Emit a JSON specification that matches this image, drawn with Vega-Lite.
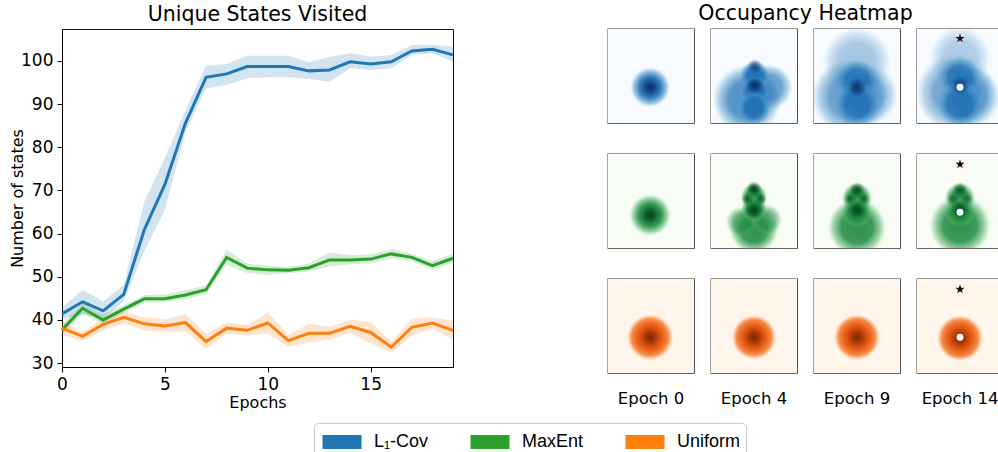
{
  "$schema": "https://vega.github.io/schema/vega-lite/v6.json",
  "padding": {"left": 9, "top": 3, "right": 0, "bottom": 0},
  "background": "white",
  "config": {
    "font": "DejaVu Sans",
    "view": {"stroke": null},
    "axis": {"grid": false, "labelFontSize": 17, "titleFontSize": 16, "titleFontWeight": "normal", "labelColor": "#000", "titleColor": "#000", "tickColor": "#000", "domainColor": "#000", "tickSize": 5, "labelPadding": 4},
    "title": {"fontSize": 20.5, "fontWeight": "normal", "color": "#000", "offset": 4}
  },
  "datasets": {
    "curves": [
      {"alg":"L₁-Cov","epoch":0,"mean":41.4,"lo":40.2,"hi":42.8},
      {"alg":"L₁-Cov","epoch":1,"mean":44.2,"lo":41.2,"hi":47.0},
      {"alg":"L₁-Cov","epoch":2,"mean":42.1,"lo":40.4,"hi":44.3},
      {"alg":"L₁-Cov","epoch":3,"mean":45.9,"lo":44.3,"hi":48.1},
      {"alg":"L₁-Cov","epoch":4,"mean":60.9,"lo":55.9,"hi":67.4},
      {"alg":"L₁-Cov","epoch":5,"mean":71.4,"lo":65.5,"hi":77.5},
      {"alg":"L₁-Cov","epoch":6,"mean":85.6,"lo":83.5,"hi":88.6},
      {"alg":"L₁-Cov","epoch":7,"mean":96.2,"lo":93.7,"hi":98.9},
      {"alg":"L₁-Cov","epoch":8,"mean":97.0,"lo":94.4,"hi":99.3},
      {"alg":"L₁-Cov","epoch":9,"mean":98.7,"lo":96.0,"hi":101.2},
      {"alg":"L₁-Cov","epoch":10,"mean":98.7,"lo":96.2,"hi":101.2},
      {"alg":"L₁-Cov","epoch":11,"mean":98.7,"lo":96.2,"hi":101.2},
      {"alg":"L₁-Cov","epoch":12,"mean":97.7,"lo":95.8,"hi":99.7},
      {"alg":"L₁-Cov","epoch":13,"mean":97.9,"lo":95.2,"hi":100.9},
      {"alg":"L₁-Cov","epoch":14,"mean":99.8,"lo":98.3,"hi":101.8},
      {"alg":"L₁-Cov","epoch":15,"mean":99.3,"lo":97.9,"hi":101.0},
      {"alg":"L₁-Cov","epoch":16,"mean":99.8,"lo":98.3,"hi":101.4},
      {"alg":"L₁-Cov","epoch":17,"mean":102.3,"lo":101.4,"hi":103.7},
      {"alg":"L₁-Cov","epoch":18,"mean":102.7,"lo":101.8,"hi":103.7},
      {"alg":"L₁-Cov","epoch":19,"mean":101.4,"lo":99.8,"hi":103.3},
      {"alg":"MaxEnt","epoch":0,"mean":37.7,"lo":36.4,"hi":39.0},
      {"alg":"MaxEnt","epoch":1,"mean":42.7,"lo":41.6,"hi":43.8},
      {"alg":"MaxEnt","epoch":2,"mean":40.0,"lo":39.0,"hi":41.2},
      {"alg":"MaxEnt","epoch":3,"mean":42.5,"lo":41.6,"hi":43.4},
      {"alg":"MaxEnt","epoch":4,"mean":44.9,"lo":44.0,"hi":45.8},
      {"alg":"MaxEnt","epoch":5,"mean":44.9,"lo":44.1,"hi":45.9},
      {"alg":"MaxEnt","epoch":6,"mean":45.8,"lo":44.8,"hi":46.9},
      {"alg":"MaxEnt","epoch":7,"mean":47.0,"lo":46.0,"hi":48.0},
      {"alg":"MaxEnt","epoch":8,"mean":54.5,"lo":52.8,"hi":56.3},
      {"alg":"MaxEnt","epoch":9,"mean":52.0,"lo":50.9,"hi":53.0},
      {"alg":"MaxEnt","epoch":10,"mean":51.6,"lo":50.4,"hi":52.6},
      {"alg":"MaxEnt","epoch":11,"mean":51.5,"lo":50.8,"hi":52.2},
      {"alg":"MaxEnt","epoch":12,"mean":52.1,"lo":51.2,"hi":53.1},
      {"alg":"MaxEnt","epoch":13,"mean":53.9,"lo":52.4,"hi":55.6},
      {"alg":"MaxEnt","epoch":14,"mean":53.9,"lo":52.9,"hi":55.0},
      {"alg":"MaxEnt","epoch":15,"mean":54.1,"lo":53.1,"hi":55.2},
      {"alg":"MaxEnt","epoch":16,"mean":55.3,"lo":54.3,"hi":56.4},
      {"alg":"MaxEnt","epoch":17,"mean":54.5,"lo":53.6,"hi":55.4},
      {"alg":"MaxEnt","epoch":18,"mean":52.6,"lo":51.6,"hi":53.6},
      {"alg":"MaxEnt","epoch":19,"mean":54.3,"lo":53.2,"hi":55.4},
      {"alg":"Uniform","epoch":0,"mean":38.1,"lo":36.6,"hi":39.6},
      {"alg":"Uniform","epoch":1,"mean":36.2,"lo":35.2,"hi":37.2},
      {"alg":"Uniform","epoch":2,"mean":39.0,"lo":37.5,"hi":40.5},
      {"alg":"Uniform","epoch":3,"mean":40.6,"lo":39.2,"hi":42.0},
      {"alg":"Uniform","epoch":4,"mean":39.1,"lo":37.6,"hi":40.6},
      {"alg":"Uniform","epoch":5,"mean":38.6,"lo":37.1,"hi":40.1},
      {"alg":"Uniform","epoch":6,"mean":39.4,"lo":37.4,"hi":41.4},
      {"alg":"Uniform","epoch":7,"mean":35.0,"lo":33.2,"hi":36.8},
      {"alg":"Uniform","epoch":8,"mean":38.1,"lo":36.8,"hi":39.4},
      {"alg":"Uniform","epoch":9,"mean":37.6,"lo":36.4,"hi":38.8},
      {"alg":"Uniform","epoch":10,"mean":39.3,"lo":36.8,"hi":41.8},
      {"alg":"Uniform","epoch":11,"mean":35.2,"lo":33.8,"hi":36.6},
      {"alg":"Uniform","epoch":12,"mean":36.9,"lo":34.7,"hi":39.1},
      {"alg":"Uniform","epoch":13,"mean":36.9,"lo":35.4,"hi":38.4},
      {"alg":"Uniform","epoch":14,"mean":38.5,"lo":37.0,"hi":40.0},
      {"alg":"Uniform","epoch":15,"mean":37.1,"lo":34.6,"hi":39.6},
      {"alg":"Uniform","epoch":16,"mean":33.7,"lo":32.4,"hi":35.0},
      {"alg":"Uniform","epoch":17,"mean":38.3,"lo":36.3,"hi":40.3},
      {"alg":"Uniform","epoch":18,"mean":39.3,"lo":38.0,"hi":40.6},
      {"alg":"Uniform","epoch":19,"mean":37.6,"lo":35.4,"hi":39.8}
    ],
    "heat": [
      {"alg":"L₁-Cov","ep":"Epoch 0","kind":"bg"},
      {"alg":"L₁-Cov","ep":"Epoch 4","kind":"bg"},
      {"alg":"L₁-Cov","ep":"Epoch 9","kind":"bg"},
      {"alg":"L₁-Cov","ep":"Epoch 14","kind":"bg"},
      {"alg":"MaxEnt","ep":"Epoch 0","kind":"bg"},
      {"alg":"MaxEnt","ep":"Epoch 4","kind":"bg"},
      {"alg":"MaxEnt","ep":"Epoch 9","kind":"bg"},
      {"alg":"MaxEnt","ep":"Epoch 14","kind":"bg"},
      {"alg":"Uniform","ep":"Epoch 0","kind":"bg"},
      {"alg":"Uniform","ep":"Epoch 4","kind":"bg"},
      {"alg":"Uniform","ep":"Epoch 9","kind":"bg"},
      {"alg":"Uniform","ep":"Epoch 14","kind":"bg"},
      {"alg":"L₁-Cov","ep":"Epoch 0","kind":"blob","fx":0.49,"fy":0.62,"r":0.26,"w":1.0},
      {"alg":"L₁-Cov","ep":"Epoch 0","kind":"core","fx":0.49,"fy":0.62,"r":0.14,"w":1.0},
      {"alg":"L₁-Cov","ep":"Epoch 4","kind":"blob","fx":0.42,"fy":0.75,"r":0.45,"w":0.8},
      {"alg":"L₁-Cov","ep":"Epoch 4","kind":"blob","fx":0.68,"fy":0.62,"r":0.3,"w":0.7},
      {"alg":"L₁-Cov","ep":"Epoch 4","kind":"blob","fx":0.51,"fy":0.5,"r":0.2,"w":1.0},
      {"alg":"L₁-Cov","ep":"Epoch 4","kind":"blob","fx":0.51,"fy":0.66,"r":0.2,"w":1.0},
      {"alg":"L₁-Cov","ep":"Epoch 4","kind":"blob","fx":0.5,"fy":0.84,"r":0.22,"w":1.0},
      {"alg":"L₁-Cov","ep":"Epoch 4","kind":"core","fx":0.51,"fy":0.6,"r":0.12,"w":1.0},
      {"alg":"L₁-Cov","ep":"Epoch 4","kind":"core","fx":0.51,"fy":0.4,"r":0.1,"w":0.7},
      {"alg":"L₁-Cov","ep":"Epoch 9","kind":"blob","fx":0.5,"fy":0.35,"r":0.45,"w":0.4},
      {"alg":"L₁-Cov","ep":"Epoch 9","kind":"blob","fx":0.42,"fy":0.72,"r":0.5,"w":0.7},
      {"alg":"L₁-Cov","ep":"Epoch 9","kind":"blob","fx":0.62,"fy":0.7,"r":0.4,"w":0.55},
      {"alg":"L₁-Cov","ep":"Epoch 9","kind":"blob","fx":0.5,"fy":0.55,"r":0.28,"w":0.85},
      {"alg":"L₁-Cov","ep":"Epoch 9","kind":"blob","fx":0.5,"fy":0.8,"r":0.3,"w":0.9},
      {"alg":"L₁-Cov","ep":"Epoch 9","kind":"core","fx":0.5,"fy":0.62,"r":0.13,"w":1.0},
      {"alg":"L₁-Cov","ep":"Epoch 14","kind":"blob","fx":0.5,"fy":0.3,"r":0.4,"w":0.35},
      {"alg":"L₁-Cov","ep":"Epoch 14","kind":"blob","fx":0.45,"fy":0.68,"r":0.52,"w":0.65},
      {"alg":"L₁-Cov","ep":"Epoch 14","kind":"blob","fx":0.62,"fy":0.72,"r":0.4,"w":0.55},
      {"alg":"L₁-Cov","ep":"Epoch 14","kind":"blob","fx":0.5,"fy":0.52,"r":0.28,"w":0.85},
      {"alg":"L₁-Cov","ep":"Epoch 14","kind":"blob","fx":0.5,"fy":0.8,"r":0.3,"w":0.9},
      {"alg":"L₁-Cov","ep":"Epoch 14","kind":"core","fx":0.5,"fy":0.6,"r":0.13,"w":0.8},
      {"alg":"MaxEnt","ep":"Epoch 0","kind":"blob","fx":0.49,"fy":0.65,"r":0.27,"w":1.0},
      {"alg":"MaxEnt","ep":"Epoch 0","kind":"core","fx":0.49,"fy":0.65,"r":0.14,"w":1.0},
      {"alg":"MaxEnt","ep":"Epoch 4","kind":"blob","fx":0.5,"fy":0.8,"r":0.32,"w":0.95},
      {"alg":"MaxEnt","ep":"Epoch 4","kind":"blob","fx":0.35,"fy":0.72,"r":0.2,"w":0.6},
      {"alg":"MaxEnt","ep":"Epoch 4","kind":"blob","fx":0.65,"fy":0.7,"r":0.2,"w":0.6},
      {"alg":"MaxEnt","ep":"Epoch 4","kind":"blob","fx":0.5,"fy":0.45,"r":0.17,"w":1.0},
      {"alg":"MaxEnt","ep":"Epoch 4","kind":"blob","fx":0.5,"fy":0.58,"r":0.17,"w":1.0},
      {"alg":"MaxEnt","ep":"Epoch 4","kind":"core","fx":0.5,"fy":0.6,"r":0.12,"w":1.0},
      {"alg":"MaxEnt","ep":"Epoch 4","kind":"core","fx":0.5,"fy":0.37,"r":0.1,"w":1.0},
      {"alg":"MaxEnt","ep":"Epoch 4","kind":"core","fx":0.42,"fy":0.48,"r":0.08,"w":0.7},
      {"alg":"MaxEnt","ep":"Epoch 4","kind":"core","fx":0.58,"fy":0.48,"r":0.08,"w":0.7},
      {"alg":"MaxEnt","ep":"Epoch 9","kind":"blob","fx":0.5,"fy":0.78,"r":0.38,"w":0.95},
      {"alg":"MaxEnt","ep":"Epoch 9","kind":"blob","fx":0.5,"fy":0.47,"r":0.2,"w":1.0},
      {"alg":"MaxEnt","ep":"Epoch 9","kind":"blob","fx":0.5,"fy":0.62,"r":0.2,"w":1.0},
      {"alg":"MaxEnt","ep":"Epoch 9","kind":"core","fx":0.5,"fy":0.6,"r":0.12,"w":1.0},
      {"alg":"MaxEnt","ep":"Epoch 9","kind":"core","fx":0.5,"fy":0.38,"r":0.1,"w":0.9},
      {"alg":"MaxEnt","ep":"Epoch 9","kind":"core","fx":0.42,"fy":0.48,"r":0.08,"w":0.6},
      {"alg":"MaxEnt","ep":"Epoch 9","kind":"core","fx":0.58,"fy":0.48,"r":0.08,"w":0.6},
      {"alg":"MaxEnt","ep":"Epoch 14","kind":"blob","fx":0.5,"fy":0.76,"r":0.4,"w":0.95},
      {"alg":"MaxEnt","ep":"Epoch 14","kind":"blob","fx":0.5,"fy":0.47,"r":0.2,"w":1.0},
      {"alg":"MaxEnt","ep":"Epoch 14","kind":"blob","fx":0.5,"fy":0.62,"r":0.2,"w":1.0},
      {"alg":"MaxEnt","ep":"Epoch 14","kind":"core","fx":0.5,"fy":0.6,"r":0.12,"w":0.9},
      {"alg":"MaxEnt","ep":"Epoch 14","kind":"core","fx":0.5,"fy":0.38,"r":0.1,"w":0.8},
      {"alg":"MaxEnt","ep":"Epoch 14","kind":"core","fx":0.42,"fy":0.48,"r":0.08,"w":0.5},
      {"alg":"MaxEnt","ep":"Epoch 14","kind":"core","fx":0.58,"fy":0.48,"r":0.08,"w":0.5},
      {"alg":"Uniform","ep":"Epoch 0","kind":"blob","fx":0.49,"fy":0.62,"r":0.3,"w":1.0},
      {"alg":"Uniform","ep":"Epoch 0","kind":"core","fx":0.49,"fy":0.62,"r":0.15,"w":1.0},
      {"alg":"Uniform","ep":"Epoch 4","kind":"blob","fx":0.5,"fy":0.62,"r":0.29,"w":1.0},
      {"alg":"Uniform","ep":"Epoch 4","kind":"core","fx":0.5,"fy":0.62,"r":0.15,"w":1.0},
      {"alg":"Uniform","ep":"Epoch 9","kind":"blob","fx":0.5,"fy":0.62,"r":0.3,"w":1.0},
      {"alg":"Uniform","ep":"Epoch 9","kind":"core","fx":0.5,"fy":0.62,"r":0.15,"w":1.0},
      {"alg":"Uniform","ep":"Epoch 14","kind":"blob","fx":0.5,"fy":0.63,"r":0.3,"w":1.0},
      {"alg":"Uniform","ep":"Epoch 14","kind":"core","fx":0.5,"fy":0.63,"r":0.15,"w":1.0},
      {"alg":"L₁-Cov","ep":"Epoch 14","kind":"star","fx":0.5,"fy":0.1},
      {"alg":"MaxEnt","ep":"Epoch 14","kind":"star","fx":0.5,"fy":0.11},
      {"alg":"Uniform","ep":"Epoch 14","kind":"star","fx":0.5,"fy":0.11},
      {"alg":"L₁-Cov","ep":"Epoch 14","kind":"dot","fx":0.5,"fy":0.62},
      {"alg":"MaxEnt","ep":"Epoch 14","kind":"dot","fx":0.5,"fy":0.62},
      {"alg":"Uniform","ep":"Epoch 14","kind":"dot","fx":0.5,"fy":0.62}
    ]
  },
  "hconcat": [
    {
      "width": 391,
      "height": 338,
      "title": {"text": "Unique States Visited", "anchor": "middle"},
      "view": {"stroke": "#111", "strokeWidth": 1},
      "data": {"name": "curves"},
      "encoding": {
        "x": {"field": "epoch", "type": "quantitative", "scale": {"domain": [0, 19], "nice": false}, "axis": {"values": [0, 5, 10, 15], "title": "Epochs", "titlePadding": 2, "labelFlush": false}}
      },
      "layer": [
        {
          "mark": {"type": "area", "fillOpacity": 0.2},
          "encoding": {
            "y": {"field": "lo", "type": "quantitative", "scale": {"domain": [29.1, 107.4], "nice": false, "zero": false}, "axis": {"values": [30, 40, 50, 60, 70, 80, 90, 100], "title": "Number of states", "titlePadding": -5}},
            "y2": {"field": "hi"},
            "color": {"field": "alg", "type": "nominal", "scale": {"domain": ["L₁-Cov", "MaxEnt", "Uniform"], "range": ["#1f77b4", "#2ca02c", "#ff7f0e"]},
              "legend": {"orient": "none", "legendX": 252, "legendY": 394, "title": null, "direction": "horizontal", "columns": 3, "labelFont": "Liberation Sans", "labelFontSize": 18, "labelColor": "#000", "symbolType": "M-1.4,-0.5H1.4V0.5H-1.4Z", "symbolSize": 776, "symbolOpacity": 1, "symbolStrokeWidth": 0, "symbolOffset": 9, "labelOffset": 18, "columnPadding": 38, "strokeColor": "#cccccc", "cornerRadius": 4, "padding": 5}}
          }
        },
        {
          "mark": {"type": "line", "strokeWidth": 3},
          "encoding": {
            "y": {"field": "mean", "type": "quantitative"},
            "color": {"field": "alg", "type": "nominal"}
          }
        }
      ]
    },
    {
      "title": {"text": "Occupancy Heatmap", "anchor": "middle"},
      "data": {"name": "heat"},
      "facet": {
        "row": {"field": "alg", "type": "nominal", "sort": ["L₁-Cov", "MaxEnt", "Uniform"], "header": {"labels": false, "title": null}},
        "column": {"field": "ep", "type": "nominal", "sort": ["Epoch 0", "Epoch 4", "Epoch 9", "Epoch 14"], "header": {"title": null, "labelOrient": "bottom", "labelFontSize": 16.5, "labelColor": "#000", "labelPadding": 17}}
      },
      "spacing": {"row": 29, "column": 15},
      "spec": {
        "width": 86,
        "height": 94,
        "view": {"stroke": "#333", "strokeWidth": 1.3},
        "layer": [
          {
            "transform": [{"filter": {"field": "kind", "equal": "bg"}}],
            "mark": {"type": "rect"},
            "encoding": {
              "x": {"value": 0}, "x2": {"value": "width"},
              "y": {"value": 0}, "y2": {"value": "height"},
              "fill": {"field": "alg", "type": "nominal", "scale": {"domain": ["L₁-Cov", "MaxEnt", "Uniform"], "range": ["#f7fbff", "#f7fcf5", "#fff5eb"]}, "legend": null}
            }
          },
          {
            "transform": [{"filter": {"and": [{"field": "kind", "equal": "blob"}, {"field": "alg", "equal": "L₁-Cov"}]}}],
            "mark": {"type": "circle", "clip": true, "fill": {"gradient": "radial", "stops": [{"offset": 0, "color": "rgba(33,113,181,1)"}, {"offset": 0.55, "color": "rgba(33,113,181,0.9)"}, {"offset": 0.8, "color": "rgba(66,146,198,0.55)"}, {"offset": 1, "color": "rgba(107,174,214,0)"}]}},
            "encoding": {
              "x": {"field": "fx", "type": "quantitative", "scale": {"domain": [0, 1]}, "axis": null},
              "y": {"field": "fy", "type": "quantitative", "scale": {"domain": [0, 1], "reverse": true}, "axis": null},
              "size": {"field": "r", "type": "quantitative", "scale": {"type": "pow", "exponent": 2, "domain": [0, 1], "range": [0, 23235]}, "legend": null},
              "opacity": {"field": "w", "type": "quantitative", "scale": {"domain": [0, 1], "range": [0, 1]}, "legend": null}
            }
          },
          {
            "transform": [{"filter": {"and": [{"field": "kind", "equal": "blob"}, {"field": "alg", "equal": "MaxEnt"}]}}],
            "mark": {"type": "circle", "clip": true, "fill": {"gradient": "radial", "stops": [{"offset": 0, "color": "rgba(35,139,69,1)"}, {"offset": 0.55, "color": "rgba(35,139,69,0.92)"}, {"offset": 0.8, "color": "rgba(65,171,93,0.55)"}, {"offset": 1, "color": "rgba(116,196,118,0)"}]}},
            "encoding": {
              "x": {"field": "fx", "type": "quantitative", "axis": null},
              "y": {"field": "fy", "type": "quantitative", "axis": null},
              "size": {"field": "r", "type": "quantitative", "legend": null},
              "opacity": {"field": "w", "type": "quantitative", "legend": null}
            }
          },
          {
            "transform": [{"filter": {"and": [{"field": "kind", "equal": "blob"}, {"field": "alg", "equal": "Uniform"}]}}],
            "mark": {"type": "circle", "clip": true, "fill": {"gradient": "radial", "stops": [{"offset": 0, "color": "rgba(217,72,1,1)"}, {"offset": 0.55, "color": "rgba(230,85,13,0.95)"}, {"offset": 0.8, "color": "rgba(241,105,19,0.75)"}, {"offset": 1, "color": "rgba(253,141,60,0)"}]}},
            "encoding": {
              "x": {"field": "fx", "type": "quantitative", "axis": null},
              "y": {"field": "fy", "type": "quantitative", "axis": null},
              "size": {"field": "r", "type": "quantitative", "legend": null},
              "opacity": {"field": "w", "type": "quantitative", "legend": null}
            }
          },
          {
            "transform": [{"filter": {"and": [{"field": "kind", "equal": "core"}, {"field": "alg", "equal": "L₁-Cov"}]}}],
            "mark": {"type": "circle", "clip": true, "fill": {"gradient": "radial", "stops": [{"offset": 0, "color": "rgba(8,48,107,1)"}, {"offset": 0.5, "color": "rgba(8,48,107,0.6)"}, {"offset": 1, "color": "rgba(8,69,148,0)"}]}},
            "encoding": {
              "x": {"field": "fx", "type": "quantitative", "axis": null},
              "y": {"field": "fy", "type": "quantitative", "axis": null},
              "size": {"field": "r", "type": "quantitative", "legend": null},
              "opacity": {"field": "w", "type": "quantitative", "legend": null}
            }
          },
          {
            "transform": [{"filter": {"and": [{"field": "kind", "equal": "core"}, {"field": "alg", "equal": "MaxEnt"}]}}],
            "mark": {"type": "circle", "clip": true, "fill": {"gradient": "radial", "stops": [{"offset": 0, "color": "rgba(0,68,27,1)"}, {"offset": 0.5, "color": "rgba(0,68,27,0.6)"}, {"offset": 1, "color": "rgba(0,109,44,0)"}]}},
            "encoding": {
              "x": {"field": "fx", "type": "quantitative", "axis": null},
              "y": {"field": "fy", "type": "quantitative", "axis": null},
              "size": {"field": "r", "type": "quantitative", "legend": null},
              "opacity": {"field": "w", "type": "quantitative", "legend": null}
            }
          },
          {
            "transform": [{"filter": {"and": [{"field": "kind", "equal": "core"}, {"field": "alg", "equal": "Uniform"}]}}],
            "mark": {"type": "circle", "clip": true, "fill": {"gradient": "radial", "stops": [{"offset": 0, "color": "rgba(127,39,4,1)"}, {"offset": 0.5, "color": "rgba(140,45,4,0.6)"}, {"offset": 1, "color": "rgba(166,54,3,0)"}]}},
            "encoding": {
              "x": {"field": "fx", "type": "quantitative", "axis": null},
              "y": {"field": "fy", "type": "quantitative", "axis": null},
              "size": {"field": "r", "type": "quantitative", "legend": null},
              "opacity": {"field": "w", "type": "quantitative", "legend": null}
            }
          },
          {
            "transform": [{"filter": {"field": "kind", "equal": "star"}}],
            "mark": {"type": "point", "filled": true, "shape": "M0,-1L0.2245,-0.309L0.951,-0.309L0.363,0.118L0.588,0.809L0,0.382L-0.588,0.809L-0.363,0.118L-0.951,-0.309L-0.2245,-0.309Z", "size": 95, "color": "#2b0505", "opacity": 1},
            "encoding": {
              "x": {"field": "fx", "type": "quantitative", "axis": null},
              "y": {"field": "fy", "type": "quantitative", "axis": null}
            }
          },
          {
            "transform": [{"filter": {"field": "kind", "equal": "dot"}}],
            "mark": {"type": "circle", "size": 48, "color": "#ffffff", "opacity": 1},
            "encoding": {
              "x": {"field": "fx", "type": "quantitative", "axis": null},
              "y": {"field": "fy", "type": "quantitative", "axis": null}
            }
          }
        ]
      }
    }
  ],
  "spacing": 147
}
